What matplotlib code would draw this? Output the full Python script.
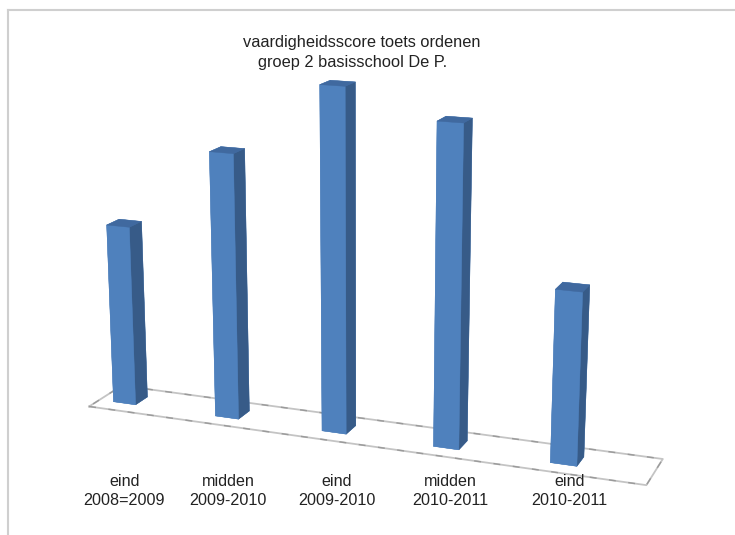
import numpy as np
import matplotlib
matplotlib.use('Agg')
import matplotlib.pyplot as plt
from matplotlib.lines import Line2D

# vaardigheidsscore per meetmoment
periods = ['eind', 'midden', 'eind', 'midden', 'eind']
years = ['2008=2009', '2009-2010', '2009-2010', '2010-2011', '2010-2011']
scores = [37.6, 54.4, 69.0, 63.7, 34.0]

title_lines = ['vaardigheidsscore toets ordenen', 'groep 2 basisschool De P.']

front_color = '#4f81bd'
side_color = '#375b88'
top_color = '#40699f'
floor_color = '#c4c4c4'
floor_dash = '#9a9a9a'

plt.rcParams['font.family'] = ['Liberation Sans', 'DejaVu Sans']

W, H = 735, 535
fig = plt.figure(figsize=(W / 100, H / 100), dpi=100)
ax = fig.add_axes([-0.0136, -0.005, 1.0, 1.0], projection='3d')
ax.set_proj_type('persp', focal_length=0.63)
ax.view_init(elev=15.4, azim=-68.7)
ax.computed_zorder = False

# floor extends a bit further on the right than on the left
x_lo, x_hi = -0.25, 4.72
ax.set_xlim(x_lo, x_hi)
ax.set_ylim(0, 1)
ax.set_zlim(0, max(scores))
ax.set_box_aspect((609, 73, 363), zoom=1.28)
ax.set_axis_off()

# floor outline: light line with darker dashes on top
fx = [x_lo, x_hi, x_hi, x_lo, x_lo]
fy = [0, 0, 1, 1, 0]
ax.plot(fx, fy, [0] * 5, color=floor_color, lw=1.3, zorder=1, clip_on=False)
ax.plot(fx, fy, [0] * 5, color=floor_dash, lw=1.0, dashes=(5, 9), zorder=1, clip_on=False)

# columns: faces are bottom, top, front(-y), back(+y), left(-x), right(+x)
n = len(scores)
bar_w, bar_d = 0.22, 0.37
xs = np.arange(n) - bar_w / 2
ys = np.full(n, 0.5 - bar_d / 2)
face_colors = []
for _ in scores:
    face_colors += [front_color, top_color, front_color, front_color, front_color, side_color]
bars = ax.bar3d(xs, ys, np.zeros(n), bar_w, bar_d, scores, color=face_colors,
                edgecolor=face_colors, linewidth=0.3, shade=False, zorder=2)
bars.set_clip_on(False)

fig.canvas.draw()

# category labels under the columns
M = ax.get_proj()
for i in range(n):
    p = M @ np.array([i + 0.1, 0.0, 0.0, 1.0])
    px, py = ax.transData.transform((p[0] / p[3], p[1] / p[3]))
    fig.text(px / W, 1 - 491 / H, periods[i] + '\n' + years[i], ha='center', va='center',
             fontsize=11.6, linespacing=1.3, color='#222222')

fig.text(362 / W, 1 - 42 / H, title_lines[0], ha='center', va='center', fontsize=11.8, color='#222222')
fig.text(353 / W, 1 - 63 / H, title_lines[1], ha='center', va='center', fontsize=11.8, color='#222222')

# chart frame (top and left edges)
fig.add_artist(Line2D([8 / W, 1], [1 - 10 / H] * 2, transform=fig.transFigure, color='#cfcfcf', lw=1.5))
fig.add_artist(Line2D([8 / W] * 2, [0, 1 - 10 / H], transform=fig.transFigure, color='#cfcfcf', lw=1.5))

fig.savefig('out.png', dpi=100)
